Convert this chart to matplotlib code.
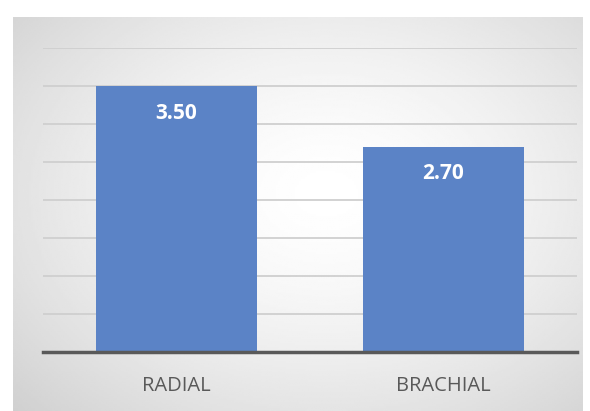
import numpy as np
import matplotlib
matplotlib.use("Agg")
import matplotlib.pyplot as plt

categories = ["RADIAL", "BRACHIAL"]
values = [3.50, 2.70]
value_labels = ["3.50", "2.70"]

W, H, DPI = 590, 411, 100
fig = plt.figure(figsize=(W / DPI, H / DPI), dpi=DPI, facecolor="white")

# gradient backdrop (light centre, grey edges)
bg = fig.add_axes([13 / W, 0, 570 / W, 394 / H])
yy, xx = np.mgrid[0:1:200j, 0:1:300j]
r = np.sqrt(((xx - 0.55) / 0.85) ** 2 + ((yy - 0.45) / 0.9) ** 2)
shade = 1.0 - 0.22 * np.clip(r, 0, 1) ** 1.5
bg.imshow(shade, cmap="gray", vmin=0, vmax=1, aspect="auto", extent=[0, 1, 0, 1])
bg.set_axis_off()

ax = fig.add_axes([43 / W, (H - 352) / H, 534 / W, 304 / H])
ax.patch.set_alpha(0)
x = np.arange(len(categories))
bars = ax.bar(x, values, width=0.6, color="#5B83C6", zorder=3)
ax.set_xlim(-0.5, len(categories) - 0.5)
ax.set_ylim(0, 4)
ax.set_yticks(np.arange(0.5, 4.01, 0.5))
ax.yaxis.grid(True, color="#cfcfcf", linewidth=1.3, zorder=0)
ax.tick_params(axis="y", left=False, labelleft=False)
ax.tick_params(axis="x", bottom=False, pad=14)
ax.set_xticks(x)
ax.set_xticklabels(categories, fontsize=14.5, color="#595959", family="Open Sans")
for s in ["top", "left", "right"]:
    ax.spines[s].set_visible(False)
ax.spines["bottom"].set_color("#595959")
ax.spines["bottom"].set_linewidth(2.5)
ax.spines["bottom"].set_zorder(4)

for b, lab in zip(bars, value_labels):
    ax.annotate(lab, (b.get_x() + b.get_width() / 2, b.get_height()),
                xytext=(0, -19.5), textcoords="offset points", ha="center", va="center",
                color="white", fontsize=15, fontweight="bold", family="Open Sans")

fig.savefig("out.png", dpi=DPI, facecolor="white")
